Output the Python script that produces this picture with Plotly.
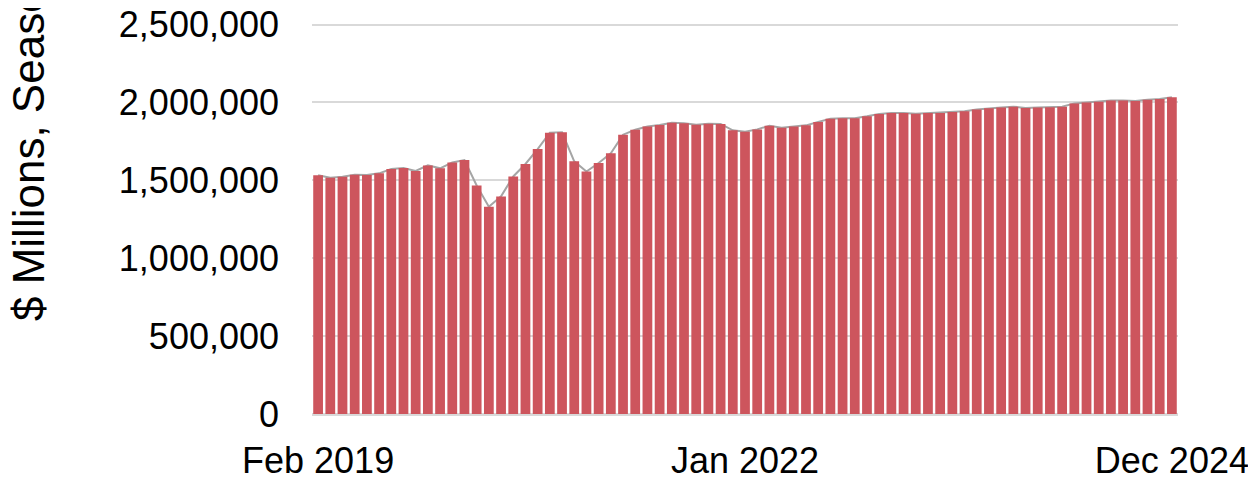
import pandas as pd
import plotly.graph_objects as go

# Categories: monthly, Feb 2019 .. Dec 2024
months = [d.strftime("%b %Y") for d in pd.date_range("2019-02-01", "2024-12-01", freq="MS")]

# Values ($ millions, seasonally adjusted)
sales = [
    1532000, 1517000, 1523000, 1536000, 1534000, 1545000, 1573000, 1579000,
    1560000, 1596000, 1577000, 1615000, 1630000, 1467000, 1330000, 1397000,
    1525000, 1605000, 1701000, 1806000, 1808000, 1622000, 1557000, 1611000,
    1674000, 1793000, 1825000, 1845000, 1855000, 1870000, 1866000, 1857000,
    1864000, 1862000, 1821000, 1812000, 1827000, 1851000, 1838000, 1845000,
    1853000, 1875000, 1896000, 1898000, 1898000, 1911000, 1926000, 1932000,
    1933000, 1928000, 1932000, 1932000, 1939000, 1943000, 1954000, 1962000,
    1967000, 1973000, 1965000, 1967000, 1969000, 1973000, 1994000, 1999000,
    2005000, 2012000, 2012000, 2010000, 2018000, 2022000, 2033000,
]

x_tick_labels = ["Feb 2019", "Jan 2022", "Dec 2024"]
y_title = "$ Millions, Seasonally Adjusted"
y_max = 2510000

FONT = "Liberation Sans, Arial, sans-serif"
BAR_COLOR = "#CD555D"
LINE_COLOR = "#A5A5A5"
GRID_COLOR = "#D9D9D9"

# figure sits 8px in from the page edge (default body margin)
W, H = 1248, 471
L, T, R, B = 304, 15, 78, 65
plot_w, plot_h = W - L - R, H - T - B

fig = go.Figure()

# Line drawn on the base subplot (behind the bars)
fig.add_trace(go.Scatter(
    x=months, y=sales, mode="lines",
    line=dict(color=LINE_COLOR, width=2),
    xaxis="x", yaxis="y", showlegend=False, hoverinfo="skip",
))

# Bars drawn on the overlaying subplot (on top of the line)
fig.add_trace(go.Bar(
    x=months, y=sales, marker=dict(color=BAR_COLOR, line=dict(width=0)),
    xaxis="x2", yaxis="y2", showlegend=False,
))

fig.update_layout(
    width=W, height=H,
    margin=dict(l=L, r=R, t=T, b=B, autoexpand=False),
    paper_bgcolor="white", plot_bgcolor="white",
    font=dict(family=FONT, color="#000000"),
    bargap=0.2,
    xaxis=dict(
        type="category", categoryorder="array", categoryarray=months,
        range=[-0.5, len(months) - 0.5], automargin=False,
        tickmode="array", tickvals=x_tick_labels, ticktext=x_tick_labels,
        showgrid=False, showline=False, ticks="", zeroline=False,
        tickfont=dict(size=36, family=FONT, color="#000000"),
        ticklabelstandoff=22, ticklabeloverflow="allow",
    ),
    yaxis=dict(
        range=[0, y_max], tick0=0, dtick=500000, tickformat=",d",
        automargin=False,
        showgrid=True, gridcolor=GRID_COLOR, gridwidth=2,
        zeroline=True, zerolinecolor=GRID_COLOR, zerolinewidth=3,
        showline=False, ticks="",
        tickfont=dict(size=36, family=FONT, color="#000000"),
        ticklabelstandoff=32, ticklabeloverflow="allow",
    ),
    xaxis2=dict(overlaying="x", matches="x", visible=False, automargin=False,
                type="category", categoryorder="array", categoryarray=months),
    yaxis2=dict(overlaying="y", matches="y", visible=False, automargin=False),
    annotations=[dict(
        text=y_title, textangle=-90,
        xref="paper", yref="paper",
        x=(20 - L) / plot_w, y=(T + plot_h - 315) / plot_h,
        xanchor="center", yanchor="bottom",
        showarrow=False,
        font=dict(size=44, family=FONT, color="#000000"),
    )],
)

fig.write_html("out.html")
